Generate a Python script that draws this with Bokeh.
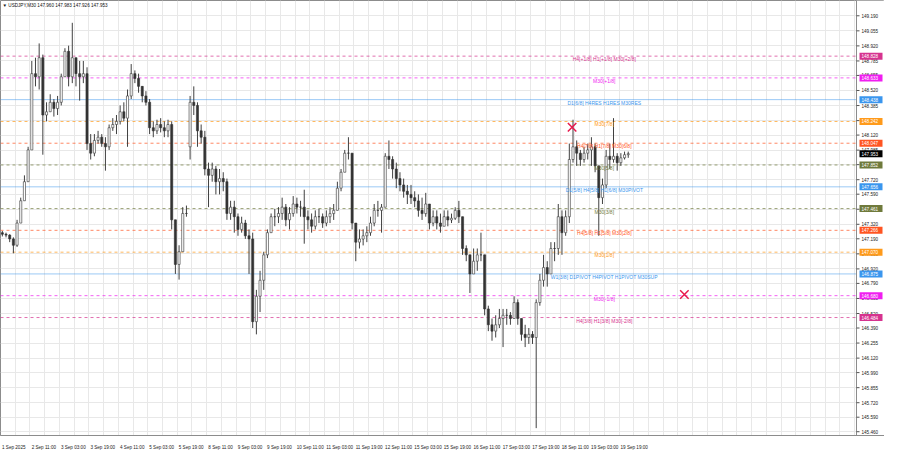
from bokeh.plotting import figure
from bokeh.models import FixedTicker, Label, Range1d, ColumnDataSource
from bokeh.core.properties import value
from bokeh.embed import file_html
from bokeh.resources import INLINE

TITLE = "\u25BC USDJPY,M30  147.960 147.983 147.926 147.953"

# 2-hour aggregated candles
opens = [147.245, 147.231, 147.223, 147.189, 147.132, 147.331, 147.531, 147.702, 147.987, 148.671,
         148.643, 148.814, 148.300, 148.329, 148.414, 148.358, 148.414, 148.643, 148.871, 148.643,
         148.814, 148.671, 148.643, 148.671, 148.044, 147.958, 148.072, 148.101, 148.044, 148.015,
         148.186, 148.215, 148.243, 148.329, 148.272, 148.471, 148.671, 148.628, 148.557, 148.471,
         148.414, 148.186, 148.158, 148.215, 148.186, 148.158, 148.215, 147.360, 146.960, 147.074,
         147.417, 148.015, 148.414, 148.386, 148.158, 148.101, 147.816, 147.759, 147.816, 147.702,
         147.730, 147.702, 147.417, 147.474, 147.388, 147.274, 147.331, 147.217, 147.189, 146.447,
         146.675, 146.818, 147.046, 147.245, 147.388, 147.388, 147.417, 147.474, 147.360, 147.417,
         147.502, 147.474, 147.474, 147.388, 147.360, 147.303, 147.388, 147.388, 147.331, 147.388,
         147.416, 147.445, 147.644, 147.787, 147.958, 147.958, 147.331, 147.160, 147.188, 147.217,
         147.245, 147.331, 147.445, 147.445, 147.473, 147.930, 147.901, 147.816, 147.730, 147.673,
         147.616, 147.588, 147.559, 147.530, 147.445, 147.416, 147.502, 147.331, 147.388, 147.331,
         147.302, 147.388, 147.359, 147.374, 147.445, 147.388, 147.103, 147.046, 146.875, 146.989,
         147.046, 147.046, 146.561, 146.419, 146.362, 146.419, 146.475, 146.504, 146.504, 146.475,
         146.618, 146.475, 146.333, 146.305, 146.333, 146.305, 146.618, 146.818, 146.932, 146.875,
         147.103, 147.103, 147.388, 147.245, 147.388, 147.901, 148.015, 147.958, 147.901, 147.958,
         147.987, 148.015, 147.844, 147.559, 147.673, 147.930, 147.901, 147.930, 147.873, 147.916,
         147.944]
highs = [147.260, 147.245, 147.231, 147.203, 147.360, 147.559, 147.759, 148.015, 148.785, 148.814,
         148.942, 148.842, 148.414, 148.486, 148.443, 148.471, 148.671, 148.899, 148.922, 149.127,
         148.814, 148.785, 148.785, 148.728, 148.129, 148.129, 148.158, 148.129, 148.101, 148.215,
         148.272, 148.300, 148.386, 148.414, 148.529, 148.757, 148.700, 148.671, 148.557, 148.514,
         148.443, 148.243, 148.258, 148.272, 148.243, 148.258, 148.243, 147.360, 147.132, 147.474,
         147.488, 148.471, 148.557, 148.414, 148.215, 148.158, 147.873, 147.873, 147.844, 147.816,
         147.787, 147.730, 147.531, 147.531, 147.417, 147.388, 147.360, 147.274, 147.245, 146.732,
         146.903, 147.074, 147.274, 147.417, 147.459, 147.474, 147.559, 147.502, 147.474, 147.573,
         147.559, 147.531, 147.630, 147.445, 147.417, 147.445, 147.459, 147.417, 147.445, 147.473,
         147.502, 147.702, 147.816, 147.987, 148.101, 147.958, 147.331, 147.274, 147.274, 147.302,
         147.388, 147.502, 147.530, 147.502, 147.958, 148.072, 147.930, 147.873, 147.787, 147.730,
         147.673, 147.673, 147.616, 147.588, 147.559, 147.602, 147.502, 147.445, 147.445, 147.416,
         147.445, 147.445, 147.416, 147.473, 147.530, 147.388, 147.131, 147.046, 147.103, 147.103,
         147.245, 147.046, 146.590, 146.475, 146.504, 146.561, 146.561, 146.561, 146.533, 146.675,
         146.647, 146.475, 146.419, 146.390, 146.362, 146.647, 146.875, 147.046, 146.989, 147.160,
         147.160, 147.502, 147.445, 147.445, 148.044, 148.258, 148.072, 147.987, 148.015, 148.044,
         148.101, 148.044, 147.844, 147.730, 147.987, 148.044, 148.272, 147.958, 147.958, 147.972,
         147.972]
lows = [147.211, 147.203, 147.160, 147.060, 147.117, 147.331, 147.531, 147.702, 147.987, 148.557,
        148.529, 147.944, 148.243, 148.329, 148.286, 148.300, 148.386, 148.643, 148.557, 148.586,
        148.557, 148.429, 148.586, 147.987, 147.901, 147.930, 148.044, 148.015, 147.801, 147.987,
        148.158, 148.129, 148.215, 148.243, 148.015, 148.443, 148.586, 148.500, 148.414, 148.386,
        148.129, 148.101, 148.129, 148.144, 148.101, 148.101, 147.274, 146.875, 146.824, 147.074,
        147.388, 147.901, 148.300, 148.015, 148.044, 147.759, 147.474, 147.702, 147.588, 147.588,
        147.616, 147.360, 147.360, 147.245, 147.217, 147.245, 147.189, 146.875, 146.390, 146.333,
        146.533, 146.732, 147.017, 147.245, 147.303, 147.331, 147.360, 147.303, 147.274, 147.388,
        147.417, 147.388, 147.146, 147.274, 147.245, 147.274, 147.331, 147.288, 147.302, 147.331,
        147.359, 147.445, 147.616, 147.787, 147.901, 147.274, 146.989, 147.103, 147.131, 147.160,
        147.217, 147.302, 147.388, 147.245, 147.473, 147.816, 147.730, 147.644, 147.616, 147.559,
        147.502, 147.502, 147.473, 147.388, 147.359, 147.388, 147.274, 147.302, 147.274, 147.245,
        147.331, 147.302, 147.331, 147.359, 147.331, 147.046, 146.989, 146.704, 146.875, 146.903,
        146.989, 146.504, 146.362, 146.276, 146.305, 146.390, 146.219, 146.419, 146.419, 146.475,
        146.419, 146.276, 146.219, 146.247, 146.247, 145.492, 146.590, 146.761, 146.761, 146.875,
        146.989, 147.046, 147.046, 147.217, 147.331, 147.873, 147.844, 147.844, 147.873, 147.901,
        147.844, 147.787, 147.217, 147.502, 147.644, 147.816, 147.873, 147.801, 147.844, 147.901,
        147.916]
closes = [147.231, 147.223, 147.189, 147.132, 147.331, 147.531, 147.702, 147.987, 148.671, 148.643,
          148.814, 148.300, 148.329, 148.414, 148.358, 148.414, 148.643, 148.871, 148.643, 148.814,
          148.671, 148.643, 148.671, 148.044, 147.958, 148.072, 148.101, 148.044, 148.015, 148.186,
          148.215, 148.243, 148.329, 148.272, 148.471, 148.671, 148.628, 148.557, 148.471, 148.414,
          148.186, 148.158, 148.215, 148.186, 148.158, 148.215, 147.360, 146.960, 147.074, 147.417,
          147.417, 148.414, 148.386, 148.158, 148.101, 147.816, 147.759, 147.816, 147.702, 147.730,
          147.702, 147.417, 147.474, 147.388, 147.274, 147.331, 147.217, 147.189, 146.447, 146.675,
          146.818, 147.046, 147.245, 147.388, 147.388, 147.417, 147.474, 147.360, 147.417, 147.502,
          147.474, 147.474, 147.388, 147.360, 147.303, 147.388, 147.388, 147.331, 147.388, 147.416,
          147.445, 147.644, 147.787, 147.958, 147.958, 147.331, 147.160, 147.188, 147.217, 147.245,
          147.331, 147.445, 147.445, 147.473, 147.930, 147.901, 147.816, 147.730, 147.673, 147.616,
          147.588, 147.559, 147.530, 147.445, 147.416, 147.502, 147.331, 147.388, 147.331, 147.302,
          147.388, 147.359, 147.374, 147.445, 147.388, 147.103, 147.046, 146.875, 146.989, 147.046,
          147.046, 146.561, 146.419, 146.362, 146.419, 146.475, 146.504, 146.504, 146.475, 146.618,
          146.475, 146.333, 146.305, 146.333, 146.305, 146.618, 146.818, 146.932, 146.875, 147.103,
          147.103, 147.388, 147.245, 147.388, 147.901, 148.015, 147.958, 147.901, 147.958, 147.987,
          148.015, 147.844, 147.559, 147.673, 147.930, 147.901, 147.930, 147.873, 147.916, 147.944,
          147.953]

time_labels = ["1 Sep 2025", "2 Sep 11:00", "3 Sep 03:00", "3 Sep 19:00", "4 Sep 11:00",
               "5 Sep 03:00", "5 Sep 19:00", "8 Sep 11:00", "9 Sep 03:00", "9 Sep 19:00",
               "10 Sep 11:00", "11 Sep 03:00", "11 Sep 19:00", "12 Sep 11:00", "15 Sep 03:00",
               "15 Sep 19:00", "16 Sep 11:00", "17 Sep 03:00", "17 Sep 19:00", "18 Sep 11:00",
               "19 Sep 03:00", "19 Sep 19:00"]
price_ticks = [149.190, 149.055, 148.920, 148.785, 148.655, 148.520, 148.385, 148.250, 148.120,
               147.985, 147.855, 147.720, 147.590, 147.455, 147.320, 147.190, 147.055, 146.920,
               146.790, 146.655, 146.520, 146.390, 146.255, 146.120, 145.990, 145.855, 145.720,
               145.590, 145.460]

level_prices = [148.828, 148.633, 148.438, 148.242, 148.047, 147.852, 147.656, 147.461,
                147.266, 147.070, 146.875, 146.680, 146.484]
level_names = ["H4[+1/8] H1[+1/8] M30[+2/8]", "M30[+1/8]", "D1[6/8] H4RES H1RES M30RES",
               "M30[7/8]", "H4[7/8] H1[7/8] M30[6/8]", "M30[5/8]",
               "D1[5/8] H4[5/8] H1[6/8] M30PIVOT", "M30[3/8]", "H4[5/8] H1[5/8] M30[2/8]",
               "M30[1/8]", "W1[3/8] D1PIVOT H4PIVOT H1PIVOT M30SUP", "M30[-1/8]",
               "H4[3/8] H1[3/8] M30[-2/8]"]
level_colors = ["#d6338f", "#f01ef0", "#3a96ee", "#ff9a1a", "#ff5522", "#6f7a3c", "#3a96ee",
                "#6f7a3c", "#ff5522", "#ff9a1a", "#3a96ee", "#f01ef0", "#d6338f"]
level_dash = ["dashed", "dashed", "solid", "dashed", "dashed", "dashed", "solid", "dashed",
              "dashed", "dashed", "solid", "dashed", "dashed"]

current_price = 147.953
cross_x_bars = [621, 743]
cross_prices = [148.19, 146.69]

# ---- layout constants (positions only) ----
W, H = 884, 452
SCALE_W = 28                       # width of the price scale strip, px
CHART_BARS = 930                   # M30 bars across the chart area
PX = CHART_BARS / (W - SCALE_W)    # bars per pixel
X_END = W * PX
Y0, Y1 = 145.426, 149.327
BAR_PER_SLOT = 4                   # each candle = 4 M30 bars
xs = [BAR_PER_SLOT * i + 2 for i in range(len(closes))]

p = figure(width=W, height=H, output_backend="svg", toolbar_location=None,
           x_range=Range1d(0, X_END), y_range=Range1d(Y0, Y1),
           min_border_left=0, min_border_top=0, min_border_right=0, min_border_bottom=13)
p.background_fill_color = "white"
p.border_fill_color = "white"
p.outline_line_color = "#8c8c8c"
p.yaxis.visible = False

# grids
p.xgrid.ticker = FixedTicker(ticks=list(range(0, CHART_BARS, 16)))
p.ygrid.ticker = FixedTicker(ticks=price_ticks)
p.xgrid.grid_line_color = "#e8e8e8"
p.ygrid.grid_line_color = "#e8e8e8"

# time axis: labels start at the tick, like MT4 -> shift label centres right
CW = {" ": 0.278, ":": 0.278, "S": 0.667, "e": 0.556, "p": 0.556}
FS = 4.6
def half_width_bars(s):
    em = sum(CW.get(ch, 0.556) for ch in s)
    return (em * FS / 2 + 1.5) * PX
label_pos = [32 * i + half_width_bars(t) for i, t in enumerate(time_labels)]
xa = p.xaxis[0]
xa.ticker = FixedTicker(ticks=label_pos)
xa.major_label_overrides = {lp: t for lp, t in zip(label_pos, time_labels)}
xa.axis_line_color = "#8c8c8c"
xa.major_tick_line_color = None
xa.minor_tick_line_color = None
xa.major_label_text_font = "Liberation Sans"
xa.major_label_text_font_size = f"{FS}px"
xa.major_label_text_color = "#222222"
xa.major_label_standoff = 3

# level lines
for lv, col, dsh in zip(level_prices, level_colors, level_dash):
    p.segment(x0=[0], y0=[lv], x1=[CHART_BARS], y1=[lv], line_color=col,
              line_alpha=(0.7 if dsh == "dashed" else 0.5),
              line_width=1, line_dash=("3 3" if dsh == "dashed" else "solid"))

# candles
fills = ["#ffffff" if c >= o else "#333333" for o, c in zip(opens, closes)]
src = ColumnDataSource(dict(x=xs, o=opens, h=highs, l=lows, c=closes, f=fills))
p.segment(x0="x", y0="l", x1="x", y1="h", source=src, line_color="#404040", line_width=1)
p.vbar(x="x", width=2.3, top="c", bottom="o", source=src, fill_color="f",
       line_color="#333333", line_width=0.6)

# level texts
p.text(x=[656] * len(level_prices), y=level_prices, text=level_names, text_color=level_colors,
       text_font=value("Liberation Sans"), text_font_size="5px", text_align="center",
       text_baseline="top")

# crosses
p.scatter(x=cross_x_bars, y=cross_prices, marker="x", size=12, line_color="#e8194c",
          line_width=1.5)

# ---- price scale strip on the right ----
p.quad(left=[CHART_BARS], right=[X_END], bottom=[Y0], top=[Y1], fill_color="white",
       line_color=None)
p.segment(x0=[CHART_BARS], y0=[Y0], x1=[CHART_BARS], y1=[Y1], line_color="#8c8c8c",
          line_width=1)
p.segment(x0=[CHART_BARS] * len(price_ticks), y0=price_ticks,
          x1=[CHART_BARS + 3 * PX] * len(price_ticks), y1=price_ticks,
          line_color="#555555", line_width=1)
p.text(x=[CHART_BARS + 5 * PX] * len(price_ticks), y=price_ticks,
       text=[f"{t:.3f}" for t in price_ticks], text_color="#222222",
       text_font=value("Liberation Sans"), text_font_size=f"{FS}px",
       text_align="left", text_baseline="middle")

tag_prices = level_prices + [current_price]
tag_colors = level_colors + ["#000000"]
p.rect(x=[CHART_BARS + 14.5 * PX] * len(tag_prices), y=tag_prices, width=23, height=7,
       width_units="screen", height_units="screen", fill_color=tag_colors, line_color=None)
p.text(x=[CHART_BARS + 5 * PX] * len(tag_prices), y=tag_prices,
       text=[f"{t:.3f}" for t in tag_prices], text_color="white",
       text_font=value("Liberation Sans"), text_font_size=f"{FS}px",
       text_align="left", text_baseline="middle")

# title
p.add_layout(Label(x=0, y=Y1, x_offset=2, y_offset=-2, text=TITLE, text_color="#111111",
                   text_font="Liberation Sans", text_font_size=f"{FS}px", text_baseline="top",
                   text_align="left"))

open("out.html", "w").write(file_html(p, INLINE))
